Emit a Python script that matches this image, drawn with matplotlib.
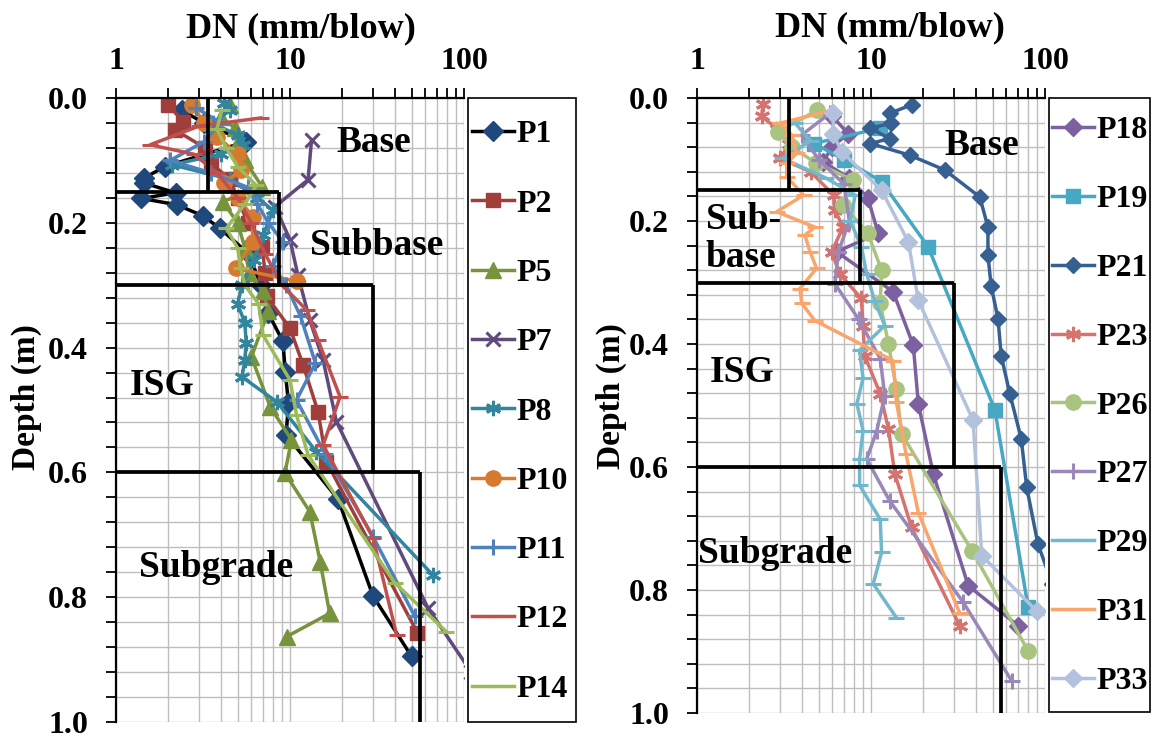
import numpy as np
import matplotlib
matplotlib.use('Agg')
import matplotlib.pyplot as plt
from matplotlib.ticker import LogLocator, MultipleLocator, FixedLocator, FuncFormatter, NullFormatter
from matplotlib.patches import Rectangle

plt.rcParams['font.family'] = 'Liberation Serif'
plt.rcParams['font.weight'] = 'bold'

# ---------------- left panel data ----------------
p1_d = [0.02, 0.04, 0.07, 0.11, 0.129, 0.136, 0.152, 0.161, 0.171, 0.189, 0.209, 0.25, 0.30, 0.345, 0.39, 0.439, 0.489, 0.54, 0.643, 0.798, 0.895]
p1_v = [2.4, 3.2, 5.6, 1.9, 1.44, 1.44, 2.2, 1.4, 2.23, 3.17, 3.96, 5.8, 6.8, 7.5, 9.1, 9.4, 9.8, 9.5, 18.9, 30, 50]
p2_d = [0.011, 0.038, 0.051, 0.08, 0.104, 0.13, 0.16, 0.2, 0.238, 0.28, 0.318, 0.369, 0.428, 0.503, 0.583, 0.857]
p2_v = [2.0, 2.43, 2.18, 3.25, 3.5, 4.5, 5.0, 5.7, 6.9, 7.2, 7.35, 10.0, 11.9, 14.5, 16.2, 54]
p5_d = [0.011, 0.03, 0.048, 0.07, 0.1, 0.142, 0.166, 0.2, 0.24, 0.28, 0.31, 0.342, 0.415, 0.495, 0.548, 0.601, 0.663, 0.743, 0.826, 0.863]
p5_v = [4.5, 4.0, 4.8, 5.0, 5.5, 6.9, 4.1, 5.0, 5.5, 5.8, 7.0, 7.5, 6.0, 7.7, 10.2, 9.35, 13.0, 14.9, 16.9, 9.6]
p7_d = [0.067, 0.131, 0.174, 0.227, 0.284, 0.356, 0.42, 0.519, 0.817, 0.92]
p7_v = [13.3, 12.7, 8.2, 10.0, 11.1, 13.0, 15.5, 18.5, 62, 110]
p8_d = [0.008, 0.02, 0.04, 0.06, 0.075, 0.09, 0.107, 0.13, 0.16, 0.18, 0.22, 0.26, 0.3, 0.33, 0.36, 0.393, 0.42, 0.447, 0.487, 0.567, 0.764]
p8_v = [4.2, 4.5, 3.6, 5.0, 5.4, 4.0, 2.1, 4.5, 6.5, 8.0, 7.0, 6.2, 5.3, 5.0, 5.5, 5.6, 5.5, 5.3, 8.4, 14.2, 66]
p10_d = [0.011, 0.04, 0.062, 0.089, 0.115, 0.137, 0.16, 0.19, 0.23, 0.273, 0.294]
p10_v = [2.75, 3.2, 3.8, 5.0, 5.2, 4.2, 5.0, 6.1, 6.1, 4.9, 11.0]
p11_d = [0.016, 0.04, 0.07, 0.1, 0.12, 0.143, 0.17, 0.2, 0.23, 0.27, 0.3, 0.35, 0.425, 0.484, 0.57, 0.703, 0.83]
p11_v = [2.9, 4.0, 3.2, 2.05, 3.5, 5.7, 6.5, 7.5, 9.1, 8.0, 9.5, 11.5, 14.0, 10.9, 15.9, 30, 52]
p12_d = [0.032, 0.045, 0.075, 0.09, 0.12, 0.16, 0.2, 0.25, 0.3, 0.34, 0.388, 0.479, 0.556, 0.705, 0.86]
p12_v = [6.8, 3.0, 1.57, 2.8, 3.8, 5.0, 6.0, 7.2, 9.0, 12.5, 14.5, 19.4, 15.5, 30, 41]
p14_d = [0.02, 0.05, 0.08, 0.11, 0.14, 0.17, 0.209, 0.24, 0.273, 0.3, 0.33, 0.38, 0.452, 0.508, 0.572, 0.777, 0.855]
p14_v = [4.05, 3.8, 4.3, 5.0, 6.4, 5.5, 4.3, 5.0, 5.2, 5.5, 6.6, 7.0, 10.0, 10.9, 12.7, 40, 79]

# ---------------- right panel data ----------------
p18_d = [0.03, 0.058, 0.079, 0.104, 0.13, 0.163, 0.22, 0.25, 0.315, 0.402, 0.497, 0.611, 0.793, 0.858]
p18_v = [6.0, 7.4, 6.0, 5.3, 7.5, 9.6, 11.0, 6.35, 13.4, 17.5, 18.7, 22.8, 36.2, 70]
p19_d = [0.049, 0.074, 0.1, 0.136, 0.242, 0.507, 0.828]
p19_v = [11.3, 4.7, 7.0, 11.5, 21.3, 51.5, 80]
p21_d = [0.011, 0.025, 0.041, 0.049, 0.066, 0.074, 0.093, 0.117, 0.161, 0.21, 0.256, 0.305, 0.359, 0.419, 0.481, 0.554, 0.633, 0.725, 0.79]
p21_v = [17.1, 12.8, 13.1, 9.9, 12.8, 9.9, 16.7, 26.5, 42.2, 47, 47, 49, 53.7, 56, 62.8, 73, 78.5, 91, 110]
p23_d = [0.009, 0.03, 0.05, 0.075, 0.098, 0.12, 0.158, 0.182, 0.21, 0.25, 0.286, 0.326, 0.37, 0.419, 0.481, 0.538, 0.611, 0.698, 0.858]
p23_v = [2.4, 2.35, 2.9, 3.4, 3.0, 4.5, 6.1, 6.2, 6.9, 5.95, 6.6, 8.8, 9.0, 9.2, 11.3, 12.6, 13.7, 17.1, 32.3]
p26_d = [0.02, 0.055, 0.08, 0.105, 0.134, 0.174, 0.22, 0.28, 0.334, 0.4, 0.473, 0.546, 0.736, 0.899]
p26_v = [4.9, 2.93, 3.5, 4.8, 7.9, 6.9, 9.6, 11.5, 11.3, 12.6, 14.0, 15.0, 38, 80]
p27_d = [0.025, 0.06, 0.1, 0.14, 0.2, 0.25, 0.302, 0.36, 0.424, 0.484, 0.541, 0.587, 0.655, 0.82, 0.948]
p27_v = [5.8, 4.0, 5.0, 7.0, 7.5, 6.5, 6.2, 8.5, 11.3, 12.0, 10.8, 9.45, 12.8, 33.9, 64.4]
p29_d = [0.041, 0.07, 0.098, 0.13, 0.158, 0.2, 0.242, 0.286, 0.33, 0.37, 0.41, 0.456, 0.497, 0.541, 0.587, 0.63, 0.685, 0.739, 0.79, 0.845]
p29_v = [3.66, 4.5, 3.1, 5.5, 8.1, 7.6, 8.8, 9.45, 10.5, 12.0, 8.6, 9.0, 8.3, 9.0, 8.6, 8.6, 11.3, 11.5, 10.3, 14.0]
p31_d = [0.022, 0.041, 0.06, 0.09, 0.106, 0.128, 0.158, 0.185, 0.21, 0.223, 0.25, 0.277, 0.31, 0.334, 0.362, 0.427, 0.495, 0.579, 0.674, 0.837]
p31_v = [5.57, 3.0, 3.5, 3.74, 3.28, 3.28, 4.1, 2.87, 4.76, 4.17, 4.46, 4.87, 3.9, 4.0, 4.76, 13.4, 14.0, 15.9, 18.7, 32.3]
p33_d = [0.025, 0.058, 0.087, 0.15, 0.234, 0.329, 0.524, 0.744, 0.834]
p33_v = [6.06, 6.06, 6.77, 11.5, 16.4, 18.7, 38.6, 43.3, 89.5]

# layer boundaries (depth) and DN limits per layer
layer_depth = [0.0, 0.15, 0.30, 0.60, 1.0]
layer_dn = [3.4, 8.6, 30, 56]
layer_names_left = ['Base', 'Subbase', 'ISG', 'Subgrade']
layer_names_right = ['Base', 'Sub-\nbase', 'ISG', 'Subgrade']
# label anchor positions (DN, depth)
lab_left = [(18.4, 0.072), (13.0, 0.236), (1.2, 0.46), (1.35, 0.753)]
lab_right = [(26.6, 0.077), (1.12, 0.228), (1.18, 0.446), (1.01, 0.741)]

# name, depth, dn, line colour, marker, marker colour, marker size
left_series = [
    ('P1', p1_d, p1_v, 'black', 'D', '#1F497D', 10),
    ('P2', p2_d, p2_v, '#A03E3B', 's', '#A03E3B', 10),
    ('P5', p5_d, p5_v, '#77933C', '^', '#77933C', 11),
    ('P7', p7_d, p7_v, '#604A7B', 'x', '#604A7B', 10),
    ('P8', p8_d, p8_v, '#31859C', (6, 2, 0), '#31859C', 11),
    ('P10', p10_d, p10_v, '#D57A2F', 'o', '#D57A2F', 11),
    ('P11', p11_d, p11_v, '#4F81BD', '+', '#4F81BD', 11),
    ('P12', p12_d, p12_v, '#C0504D', '_', '#C0504D', 11),
    ('P14', p14_d, p14_v, '#9BBB59', '_', '#9BBB59', 11),
]
right_series = [
    ('P18', p18_d, p18_v, '#7D60A0', 'D', '#7D60A0', 9),
    ('P19', p19_d, p19_v, '#46A8C2', 's', '#46A8C2', 10),
    ('P21', p21_d, p21_v, '#366092', 'D', '#366092', 8),
    ('P23', p23_d, p23_v, '#D6736F', (6, 2, 0), '#D6736F', 11),
    ('P26', p26_d, p26_v, '#A9C47F', 'o', '#A9C47F', 11),
    ('P27', p27_d, p27_v, '#9A88B8', '+', '#9A88B8', 11),
    ('P29', p29_d, p29_v, '#72B8CC', '_', '#72B8CC', 11),
    ('P31', p31_d, p31_v, '#F9A56C', '_', '#F9A56C', 11),
    ('P33', p33_d, p33_v, '#B3C2DC', 'D', '#B3C2DC', 9),
]

W, H = 1156, 740
fig = plt.figure(figsize=(W / 100, H / 100), dpi=100)


def px(x0, y0, x1, y1):
    return [x0 / W, 1 - y1 / H, (x1 - x0) / W, (y1 - y0) / H]


def draw_panel(ax, series, names, labpos, legx, legbox, lspace):
    handles = []
    for name, d, v, lc, mk, mc, ms in series:
        h, = ax.plot(v, d, color=lc, lw=2.5, marker=mk, ms=ms, mfc=mc, mec=mc,
                     mew=2.2 if mk in ('x', '+', '_', (6, 2, 0)) else 1.0,
                     label=name)
        handles.append(h)
    # layer boxes
    for i, dn in enumerate(layer_dn):
        ax.vlines(dn, layer_depth[i], layer_depth[i + 1], color='black', lw=2.7, zorder=5)
        if i > 0:
            ax.hlines(layer_depth[i], 1, dn, color='black', lw=2.7, zorder=5)
    for name, (x, y) in zip(names, labpos):
        ax.text(x, y, name, fontsize=27, fontweight='bold', ha='left', va='center',
                linespacing=1.1, zorder=6)

    ax.set_xscale('log')
    ax.set_xlim(1, 100)
    ax.set_ylim(1.0, 0.0)
    ax.xaxis.tick_top()
    ax.xaxis.set_label_position('top')
    ax.xaxis.set_major_locator(FixedLocator([1, 10, 100]))
    ax.xaxis.set_major_formatter(FuncFormatter(lambda x, p: '%g' % x))
    ax.xaxis.set_minor_locator(LogLocator(base=10, subs=np.arange(2, 10)))
    ax.xaxis.set_minor_formatter(NullFormatter())
    ax.yaxis.set_major_locator(MultipleLocator(0.2))
    ax.yaxis.set_minor_locator(MultipleLocator(0.04))
    ax.yaxis.set_major_formatter(FuncFormatter(lambda y, p: '%.1f' % y))
    ax.grid(True, which='both', color='#BEBEBE', lw=1.0)
    ax.set_axisbelow(True)
    ax.tick_params(which='both', direction='out', length=7, width=1.3, color='black')
    ax.tick_params(axis='x', labelsize=23, pad=9)
    ax.tick_params(axis='y', labelsize=23, pad=13)
    for lbl in ax.get_xticklabels() + ax.get_yticklabels():
        lbl.set_fontweight('bold')
    for s in ('right', 'bottom'):
        ax.spines[s].set_visible(False)
    for s in ('left', 'top'):
        ax.spines[s].set_linewidth(1.6)
    ax.set_xlabel('DN (mm/blow)', fontsize=26, fontweight='bold')
    ax.set_ylabel('Depth (m)', fontsize=24, fontweight='bold')

    # legend with a plain rectangular frame
    fig.legend(handles=handles, loc='upper left', bbox_to_anchor=(legx[0] / W, 1 - legx[1] / H),
               frameon=False, handlelength=1.3, handletextpad=0.1,
               labelspacing=lspace, borderpad=0, borderaxespad=0,
               prop={'weight': 'bold', 'size': 23})
    x0, y0, x1, y1 = legbox
    fig.patches.append(Rectangle((x0 / W, 1 - y1 / H), (x1 - x0) / W, (y1 - y0) / H,
                                 transform=fig.transFigure, fill=False, ec='black', lw=1.2))


ax1 = fig.add_axes(px(116, 98, 464, 722))
ax2 = fig.add_axes(px(697, 98, 1045, 713))

draw_panel(ax1, left_series, layer_names_left, lab_left, (472, 120), (468, 98, 576, 722), 1.25)
draw_panel(ax2, right_series, layer_names_right, lab_right, (1052, 116), (1049, 98, 1150, 712), 1.235)

ax1.xaxis.set_label_coords(0.53, 1.097)
ax2.xaxis.set_label_coords(0.555, 1.1)
ax1.yaxis.set_label_coords(-0.213, 0.52)
ax2.yaxis.set_label_coords(-0.201, 0.515)

fig.savefig('out.png', dpi=100)
